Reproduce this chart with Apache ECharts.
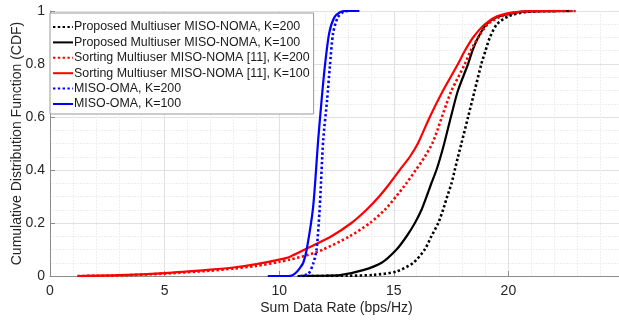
<!DOCTYPE html>
<html>
<head>
<meta charset="utf-8">
<script src="https://cdn.jsdelivr.net/npm/echarts@6/dist/echarts.min.js"></script>
<style>
html,body{margin:0;padding:0;background:#fff;}
#chart{width:619px;height:320px;}
</style>
</head>
<body>
<div id="chart"></div>
<script>
// Series names (legend)
var seriesNames = [
  "Proposed Multiuser MISO-NOMA, K=200",
  "Proposed Multiuser MISO-NOMA, K=100",
  "Sorting Multiuser MISO-NOMA [11], K=200",
  "Sorting Multiuser MISO-NOMA [11], K=100",
  "MISO-OMA, K=200",
  "MISO-OMA, K=100"
];

// Read-off CDF points: [sum rate (bps/Hz), CDF]
var proposedK200 = [[11,0],[13,0.001],[14.1,0.004],[15.12,0.017],[15.85,0.05],[16.35,0.1],[16.64,0.15],[16.94,0.2],[17.15,0.25],[17.33,0.3],[17.52,0.35],[17.66,0.4],[17.8,0.45],[17.95,0.5],[18.24,0.6],[18.53,0.7],[18.82,0.8],[19.0,0.85],[19.19,0.9],[19.5,0.95],[20.0,0.98],[20.8,0.997],[22.8,1]];
var proposedK100 = [[10.8,0],[12,0.001],[12.65,0.003],[13.66,0.022],[14.47,0.05],[15.12,0.1],[15.56,0.15],[15.92,0.2],[16.21,0.25],[16.43,0.3],[16.64,0.35],[16.86,0.4],[17.04,0.45],[17.2,0.5],[17.49,0.6],[17.8,0.7],[18.24,0.8],[18.43,0.85],[18.68,0.9],[19.04,0.95],[19.6,0.98],[20.5,0.997],[22.75,1]];
var sortingK200 = [[1.2,0],[3,0.002],[5,0.009],[7,0.02],[8,0.028],[9,0.038],[10,0.053],[10.47,0.062],[11.2,0.078],[11.92,0.1],[13.08,0.15],[13.96,0.2],[14.61,0.25],[15.1,0.3],[15.55,0.35],[15.96,0.4],[16.35,0.45],[16.68,0.5],[16.9,0.55],[17.1,0.6],[17.3,0.65],[17.52,0.7],[18.1,0.8],[18.35,0.85],[18.68,0.9],[19.1,0.95],[19.7,0.98],[20.6,0.997],[22.97,1]];
var sortingK100 = [[1.2,0],[3,0.003],[5,0.011],[7,0.024],[8,0.032],[9,0.045],[10,0.062],[10.47,0.073],[11.12,0.1],[12.28,0.15],[13.15,0.2],[13.81,0.25],[14.36,0.3],[14.83,0.35],[15.26,0.4],[15.7,0.45],[16.05,0.5],[16.57,0.6],[17.15,0.7],[17.8,0.8],[18.1,0.85],[18.46,0.9],[18.97,0.95],[19.5,0.98],[20.3,0.996],[21.5,1],[22.5,1]];
var omaK200 = [[10.9,0],[11.27,0.008],[11.48,0.046],[11.63,0.1],[11.77,0.26],[11.92,0.513],[12.09,0.664],[12.21,0.79],[12.35,0.916],[12.55,0.975],[12.8,0.997],[13.0,1]];
var omaK100 = [[9.5,0],[10.4,0],[10.6,0.004],[10.76,0.015],[10.9,0.03],[11.05,0.05],[11.2,0.1],[11.48,0.26],[11.7,0.513],[11.85,0.664],[11.99,0.79],[12.18,0.916],[12.4,0.975],[12.65,0.995],[12.9,1],[13.5,1]];

var xTicks = [0, 5, 10, 15, 20];
var yTicks = [0, 0.2, 0.4, 0.6, 0.8, 1];

var seriesData = [proposedK200, proposedK100, sortingK200, sortingK100, omaK200, omaK100];
var colors = ['#000000', '#000000', '#ff0000', '#ff0000', '#0000ff', '#0000ff'];
var dotted = [true, false, true, false, true, false];

var chart = echarts.init(document.getElementById('chart'), null, {renderer: 'canvas'});
var font = '"Liberation Sans", Arial, sans-serif';

var series = seriesData.map(function (d, i) {
  return {
    name: seriesNames[i],
    type: 'line',
    data: d,
    showSymbol: false,
    symbol: 'none',
    smooth: 0.25,
    lineStyle: {
      color: colors[i],
      width: dotted[i] ? 2.6 : 2.2,
      type: dotted[i] ? [2.4, 2.4] : 'solid'
    },
    itemStyle: {color: colors[i]},
    z: 2 + i
  };
});

chart.setOption({
  animation: false,
  backgroundColor: '#ffffff',
  grid: {left: 50, top: 11, width: 573, height: 265, containLabel: false, outerBoundsMode: 'none'},
  legend: {
    orient: 'vertical',
    left: 50,
    top: 13,
    padding: [8, 4, 4, 2],
    itemGap: 3.4,
    itemWidth: 20,
    itemHeight: 14,
    backgroundColor: '#ffffff',
    borderColor: '#999999',
    borderWidth: 1,
    itemStyle: {opacity: 0},
    textStyle: {fontFamily: font, fontSize: 12.4, color: '#1a1a1a', padding: [0, 0, 0, -4]},
    data: seriesNames,
    z: 10
  },
  xAxis: {
    type: 'value',
    min: 0,
    max: 25,
    interval: 5,
    name: 'Sum Data Rate (bps/Hz)',
    nameLocation: 'middle',
    nameGap: 25,
    nameMoveOverlap: false,
    nameTextStyle: {fontFamily: font, fontSize: 14, color: '#262626'},
    axisLine: {show: true, onZero: false, lineStyle: {color: '#8c8c8c', width: 1}},
    axisTick: {show: true, inside: true, length: 5, lineStyle: {color: '#8c8c8c'}},
    axisLabel: {
      fontFamily: font, fontSize: 14, color: '#262626', margin: 8,
      formatter: function (v) { return xTicks.indexOf(v) >= 0 ? String(v) : ''; }
    },
    splitLine: {show: true, lineStyle: {color: '#e1e1e1', width: 1}},
    minorTick: {show: false, splitNumber: 5},
    minorSplitLine: {show: true, lineStyle: {color: '#eeeeee', width: 1, type: [2, 1]}}
  },
  yAxis: {
    type: 'value',
    min: 0,
    max: 1,
    interval: 0.2,
    name: 'Cumulative Distribution Function (CDF)',
    nameLocation: 'middle',
    nameGap: 26,
    nameMoveOverlap: false,
    nameTextStyle: {fontFamily: font, fontSize: 14, color: '#262626'},
    axisLine: {show: true, lineStyle: {color: '#8c8c8c', width: 1}},
    axisTick: {show: true, inside: true, length: 5, lineStyle: {color: '#8c8c8c'}},
    axisLabel: {
      fontFamily: font, fontSize: 14, color: '#262626', margin: 5,
      formatter: function (v) {
        for (var k = 0; k < yTicks.length; k++) {
          if (Math.abs(yTicks[k] - v) < 1e-9) return String(yTicks[k]);
        }
        return '';
      }
    },
    splitLine: {show: true, lineStyle: {color: '#e1e1e1', width: 1}},
    minorTick: {show: false, splitNumber: 4},
    minorSplitLine: {show: true, lineStyle: {color: '#eeeeee', width: 1, type: [2, 1]}}
  },
  series: series
});
</script>
</body>
</html>
